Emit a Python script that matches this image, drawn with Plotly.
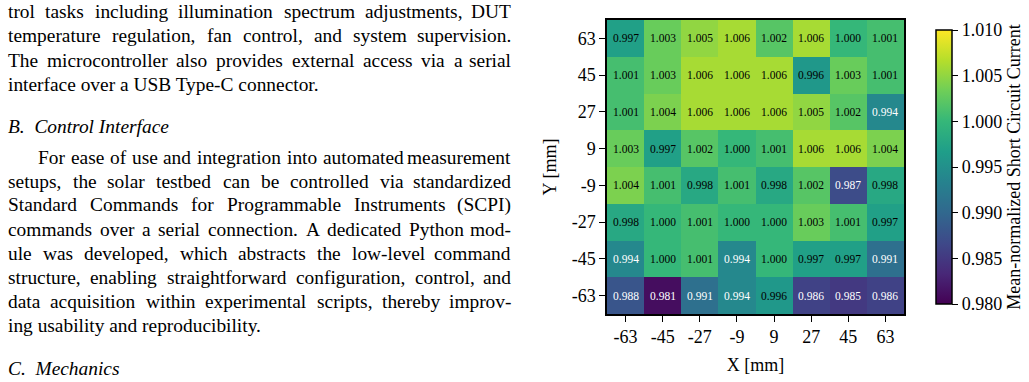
import plotly.graph_objects as go

# ---------------- data ----------------
x_pos = [-63, -45, -27, -9, 9, 27, 45, 63]
y_pos = [-63, -45, -27, -9, 9, 27, 45, 63]
# rows listed bottom (-63) to top (63)
row_m63 = [0.988, 0.981, 0.991, 0.994, 0.996, 0.986, 0.985, 0.986]
row_m45 = [0.994, 1.000, 1.001, 0.994, 1.000, 0.997, 0.997, 0.991]
row_m27 = [0.998, 1.000, 1.001, 1.000, 1.000, 1.003, 1.001, 0.997]
row_m9 = [1.004, 1.001, 0.998, 1.001, 0.998, 1.002, 0.987, 0.998]
row_p9 = [1.003, 0.997, 1.002, 1.000, 1.001, 1.006, 1.006, 1.004]
row_p27 = [1.001, 1.004, 1.006, 1.006, 1.006, 1.005, 1.002, 0.994]
row_p45 = [1.001, 1.003, 1.006, 1.006, 1.006, 0.996, 1.003, 1.001]
row_p63 = [0.997, 1.003, 1.005, 1.006, 1.002, 1.006, 1.000, 1.001]
z = [row_m63, row_m45, row_m27, row_m9, row_p9, row_p27, row_p45, row_p63]

cbar_ticks = [0.980, 0.985, 0.990, 0.995, 1.000, 1.005, 1.010]

body_lines = [
    ("trol tasks including illumination spectrum adjustments, DUT", "just", False),
    ("temperature regulation, fan control, and system supervision.", "just", False),
    ("The microcontroller also provides external access via a serial", "just", False),
    ("interface over a USB Type-C connector.", "left", False),
    ("B.\u00a0 Control Interface", "left", True),
    ("For ease of use and integration into automated measurement", "indent", False),
    ("setups, the solar testbed can be controlled via standardized", "just", False),
    ("Standard Commands for Programmable Instruments (SCPI)", "just", False),
    ("commands over a serial connection. A dedicated Python mod-", "just", False),
    ("ule was developed, which abstracts the low-level command", "just", False),
    ("structure, enabling straightforward configuration, control, and", "just", False),
    ("data acquisition within experimental scripts, thereby improv-", "just", False),
    ("ing usability and reproducibility.", "left", False),
    ("C.\u00a0 Mechanics", "left", True),
]
line_y = [12, 36, 60, 84, 127, 157, 181, 205, 229, 253, 277, 301, 325, 368]

# ---------------- layout constants ----------------
W, H = 1029, 382
PL, PR, PT, PB = 607, 904, 20, 314
FONT = "Liberation Serif"
TXT = 19.4
TEXT_L, TEXT_R, INDENT = 7, 512, 30

AFM = {' ': 250, ',': 250, '.': 250, '-': 333, '(': 333, ')': 333, '[': 333, ']': 333,
       'A': 722, 'B': 667, 'C': 667, 'D': 722, 'E': 611, 'F': 556, 'G': 722, 'H': 722, 'I': 333,
       'J': 389, 'K': 722, 'L': 611, 'M': 889, 'N': 722, 'O': 722, 'P': 556, 'Q': 722, 'R': 667,
       'S': 556, 'T': 611, 'U': 722, 'V': 722, 'W': 944, 'X': 722, 'Y': 722, 'Z': 611,
       'a': 444, 'b': 500, 'c': 444, 'd': 500, 'e': 444, 'f': 333, 'g': 500, 'h': 500, 'i': 278,
       'j': 278, 'k': 500, 'l': 278, 'm': 778, 'n': 500, 'o': 500, 'p': 500, 'q': 500, 'r': 333,
       's': 389, 't': 278, 'u': 500, 'v': 500, 'w': 722, 'x': 500, 'y': 500, 'z': 444}


def wwidth(w):
    return sum(AFM.get(c, 500) for c in w) * TXT / 1000.0


def px2paper(px, py):
    return (px - PL) / (PR - PL), (PB - py) / (PB - PT)


fig = go.Figure()
fig.add_trace(go.Heatmap(
    x=x_pos, y=y_pos, z=z, colorscale="Viridis", zmin=0.98, zmax=1.01,
    showscale=True,
    colorbar=dict(
        thickness=16, thicknessmode="pixels", len=1.0, lenmode="fraction",
        x=(926 - PL) / (PR - PL), xanchor="left", xref="paper", y=1.0, yanchor="top",
        outlinewidth=1.5, outlinecolor="black",
        tickvals=cbar_ticks, ticktext=[f"{v:.3f}" for v in cbar_ticks],
        ticks="outside", ticklen=6, tickwidth=1.2, tickcolor="black",
        tickfont=dict(family=FONT, size=18, color="black"),
        title=dict(text="Mean-normalized Short Circuit Current", side="right",
                   font=dict(family=FONT, size=18, color="black")),
    ),
    hoverinfo="skip",
))

annotations = []
# cell value labels
for yi, row in zip(y_pos, z):
    for xi, v in zip(x_pos, row):
        annotations.append(dict(
            x=xi, y=yi, xref="x", yref="y", text=f"{v:.3f}", showarrow=False,
            font=dict(family=FONT, size=11.5, color="white" if v < 0.995 else "black")))

# body text
for (line, mode, ital), py in zip(body_lines, line_y):
    style = "italic" if ital else "normal"
    if mode == "left":
        px, ppy = px2paper(TEXT_L, py)
        annotations.append(dict(x=px, y=ppy, xref="paper", yref="paper", text=line,
                                showarrow=False, xanchor="left", yanchor="middle",
                                borderpad=0,
                                font=dict(family=FONT, size=TXT, color="black", style=style)))
        continue
    start = TEXT_L + (INDENT if mode == "indent" else 0)
    words = line.split(" ")
    widths = [wwidth(w) for w in words]
    gap = (TEXT_R - start - sum(widths)) / (len(words) - 1)
    cur = start
    for i, (w, ww) in enumerate(zip(words, widths)):
        if i == len(words) - 1:
            px, ppy = px2paper(TEXT_R, py)
            anchor = "right"
        else:
            px, ppy = px2paper(cur, py)
            anchor = "left"
        annotations.append(dict(x=px, y=ppy, xref="paper", yref="paper", text=w,
                                showarrow=False, xanchor=anchor, yanchor="middle",
                                borderpad=0,
                                font=dict(family=FONT, size=TXT, color="black")))
        cur += ww + gap

axis_common = dict(
    tickmode="array", ticks="outside", ticklen=6, tickwidth=1.2, tickcolor="black",
    showline=True, linewidth=1.5, linecolor="black", mirror=True,
    showgrid=False, zeroline=False,
    tickfont=dict(family=FONT, size=18, color="black"),
)
fig.update_xaxes(**axis_common, tickvals=x_pos, ticktext=[str(v) for v in x_pos],
                 range=[-72, 72],
                 title=dict(text="X [mm]", font=dict(family=FONT, size=18, color="black"), standoff=12))
fig.update_yaxes(**axis_common, tickvals=y_pos, ticktext=[str(v) for v in y_pos],
                 range=[-72, 72],
                 title=dict(text="Y [mm]", font=dict(family=FONT, size=18, color="black"), standoff=10))

fig.update_layout(
    width=W, height=H,
    margin=dict(l=PL, r=W - PR, t=PT, b=H - PB, autoexpand=False),
    paper_bgcolor="white", plot_bgcolor="white",
    annotations=annotations,
    showlegend=False,
)

fig.write_html("out.html")
